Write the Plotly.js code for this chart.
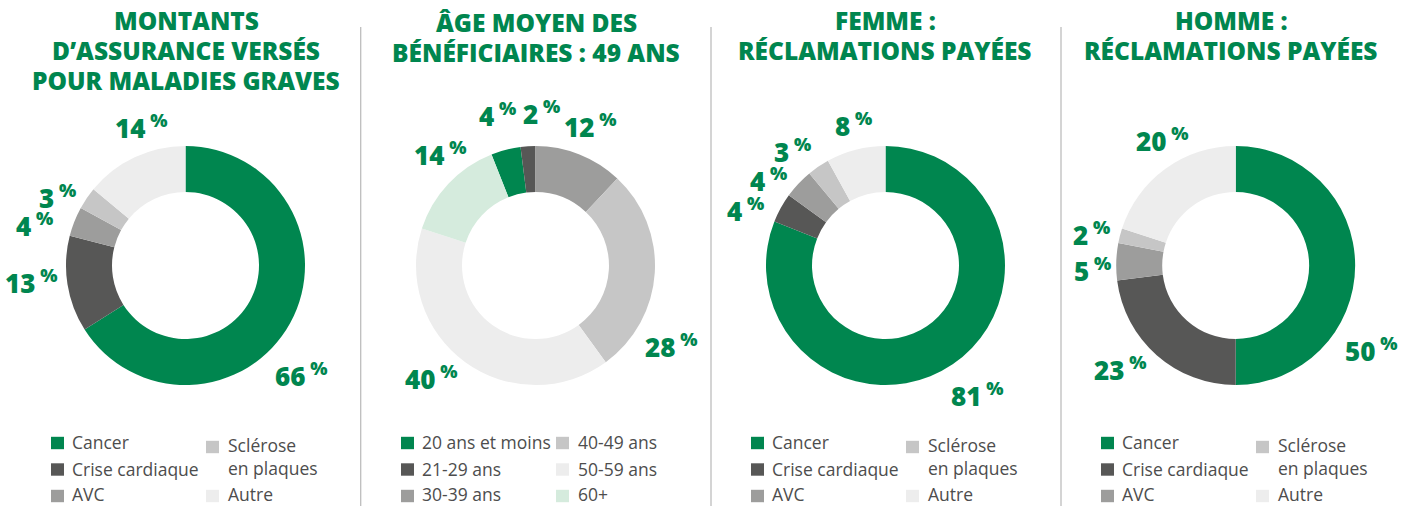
<!DOCTYPE html>
<html><head><meta charset="utf-8">
<script src="https://cdn.plot.ly/plotly-3.0.1.min.js"></script>
<style>html,body{margin:0;padding:0;background:#fff}#chart{width:1405px;height:506px}</style>
</head><body><div id="chart"></div>
<script>
// ---------- DATA ----------
const diseaseCategories = ['Cancer', 'Crise cardiaque', 'AVC', 'Sclérose en plaques', 'Autre'];
const amountsValues = [66, 13, 4, 3, 14];     // Montants d'assurance versés
const womenValues   = [81, 4, 4, 3, 8];       // Femme : réclamations payées
const menValues     = [50, 23, 5, 2, 20];     // Homme : réclamations payées
const ageCategories = ['20 ans et moins', '21-29 ans', '30-39 ans', '40-49 ans', '50-59 ans', '60+'];
const ageValues     = [4, 2, 12, 28, 40, 14]; // Âge des bénéficiaires
const chartTitles = [
  ['MONTANTS', 'D’ASSURANCE VERSÉS', 'POUR MALADIES GRAVES'],
  ['ÂGE MOYEN DES', 'BÉNÉFICIAIRES : 49 ANS'],
  ['FEMME :', 'RÉCLAMATIONS PAYÉES'],
  ['HOMME :', 'RÉCLAMATIONS PAYÉES']
];

// ---------- STYLE / LAYOUT ----------
const W = 1405, H = 506;
const GREEN = '#00864f';
const TEXT = '#4d4d4d';
const diseaseColors = ['#00864f', '#575756', '#9d9d9c', '#c6c6c6', '#ededed'];
const ageColors = ['#00864f', '#575756', '#9d9d9c', '#c6c6c6', '#ededed', '#d5ebdd'];
const R = 119.5, CY = 265.5;

const diseaseLegend = [
  {col: 0, sq: 443, base: 449.3}, {col: 0, sq: 469.5, base: 476}, {col: 0, sq: 496, base: 501},
  {col: 1, sq: 447, base: 475.3}, {col: 1, sq: 496, base: 501}
];
const ageLegend = [
  {col: 0, sq: 443, base: 449.3}, {col: 0, sq: 469.5, base: 476}, {col: 0, sq: 496, base: 501},
  {col: 1, sq: 443, base: 449.3}, {col: 1, sq: 469.5, base: 476}, {col: 1, sq: 496, base: 501}
];

const charts = [
  {labels: diseaseCategories, values: amountsValues, colors: diseaseColors, start: 0, cx: 185.5, dx: 0,
   title: chartTitles[0], titleX: 186, titleBase: [29.3, 59.5, 89.5],
   labelPos: [[276, 386], [6.7, 293.3], [17.3, 236], [40, 208.3], [116.7, 138.3]], legend: diseaseLegend},
  {labels: ageCategories, values: ageValues, colors: ageColors, start: 2, cx: 535.5, dx: 350,
   title: chartTitles[1], titleX: 536, titleBase: [31.7, 61.7],
   labelPos: [[480, 126.7], [524, 124], [565, 137.3], [646.7, 357.3], [406, 389.3], [415, 165]], legend: ageLegend},
  {labels: diseaseCategories, values: womenValues, colors: diseaseColors, start: 0, cx: 885.5, dx: 700,
   title: chartTitles[2], titleX: 885, titleBase: [29.3, 59.5],
   labelPos: [[952.7, 406.7], [728, 221.7], [751, 191.7], [775, 162.7], [836, 136]], legend: diseaseLegend},
  {labels: diseaseCategories, values: menValues, colors: diseaseColors, start: 0, cx: 1235.7, dx: 1050,
   title: chartTitles[3], titleX: 1231, titleBase: [29.3, 59.5],
   labelPos: [[1346.7, 361.7], [1095, 380], [1075, 281.7], [1074, 245.7], [1137.3, 151.7]], legend: diseaseLegend}
];

const px = x => x / W;
const py = y => 1 - y / H;
const colSq = [57.5, 212.5], colText = [72, 227.5];

const data = [], annotations = [], shapes = [];

charts.forEach((c) => {
  const total = c.values.reduce((a, b) => a + b, 0);
  const before = c.values.slice(0, c.start).reduce((a, b) => a + b, 0);
  data.push({
    type: 'pie', labels: c.labels, values: c.values, sort: false, direction: 'clockwise',
    rotation: -360 * before / total, hole: 0.615,
    marker: {colors: c.colors, line: {width: 0}},
    textinfo: 'none', hoverinfo: 'label+percent', showlegend: false,
    domain: {x: [px(c.cx - R), px(c.cx + R)], y: [py(CY + R), py(CY - R)]}
  });
  c.title.forEach((line, j) => annotations.push({
    xref: 'paper', yref: 'paper', x: px(c.titleX), y: py(c.titleBase[j] + 7.2),
    xanchor: 'center', yanchor: 'bottom', text: line, showarrow: false, borderpad: 0, borderwidth: 0,
    font: {family: 'Open Sans', size: 24.5, color: GREEN, weight: 800}
  }));
  c.values.forEach((v, k) => {
    const p = c.labelPos[k];
    annotations.push({
      xref: 'paper', yref: 'paper', x: px(p[0] - 1.5), y: py(p[1] + 7.6),
      xanchor: 'left', yanchor: 'bottom', text: v + '<sup> %</sup>', showarrow: false, borderpad: 0, borderwidth: 0,
      font: {family: 'Open Sans', size: 26, color: GREEN, weight: 800}
    });
  });
  c.legend.forEach((it, k) => {
    const sx = colSq[it.col] + c.dx;
    shapes.push({type: 'rect', xref: 'paper', yref: 'paper',
      x0: px(sx - 6.5), x1: px(sx + 6.5), y0: py(it.sq + 6.2), y1: py(it.sq - 6.2),
      fillcolor: c.colors[k], line: {width: 0}});
    annotations.push({
      xref: 'paper', yref: 'paper', x: px(colText[it.col] + c.dx), y: py(it.base + 5),
      xanchor: 'left', yanchor: 'bottom', align: 'left', showarrow: false, borderpad: 0, borderwidth: 0,
      text: c.labels[k].replace('Sclérose en', 'Sclérose<br>en'),
      font: {family: 'Open Sans', size: 17.5, color: TEXT}
    });
  });
});

[360.7, 711, 1061].forEach(x => shapes.push({
  type: 'line', xref: 'paper', yref: 'paper', x0: px(x), x1: px(x), y0: py(27), y1: 0,
  line: {color: '#bdbdbd', width: 1.3}
}));

Plotly.newPlot('chart', data, {
  width: W, height: H, margin: {l: 0, r: 0, t: 0, b: 0},
  paper_bgcolor: '#ffffff', plot_bgcolor: '#ffffff',
  showlegend: false, annotations: annotations, shapes: shapes
}, {displayModeBar: false});
</script>
</body></html>
